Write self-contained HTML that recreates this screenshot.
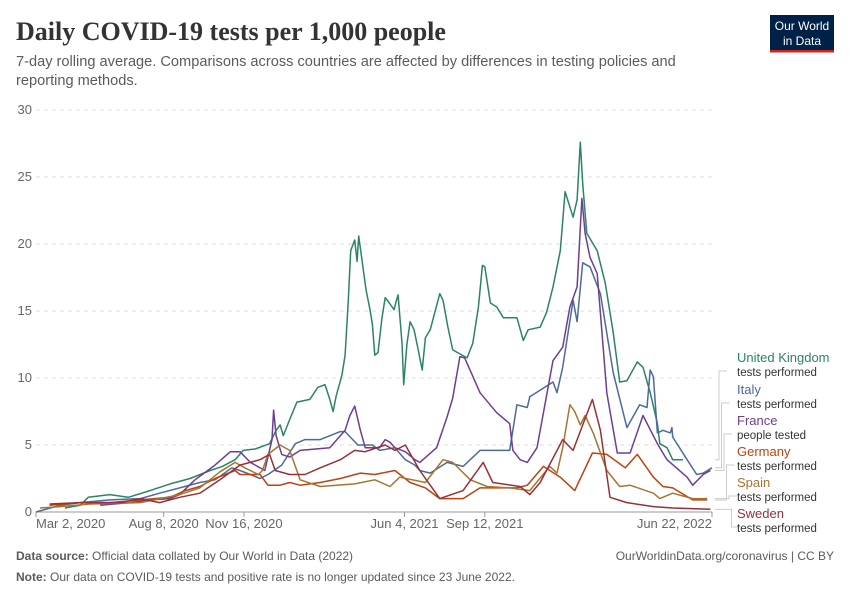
<!DOCTYPE html>
<html><head><meta charset="utf-8"><style>
body{margin:0;background:#fff;width:850px;height:600px;overflow:hidden;font-family:"Liberation Sans",sans-serif}
svg{display:block}
</style></head><body>
<svg id="chart" width="850" height="600">
<text x="16" y="40" font-family="Liberation Serif,serif" font-size="26" font-weight="bold" fill="#333">Daily COVID-19 tests per 1,000 people</text>
<text x="16" y="66" font-size="14.6" fill="#5b5b5b">7-day rolling average. Comparisons across countries are affected by differences in testing policies and</text>
<text x="16" y="85" font-size="14.6" fill="#5b5b5b">reporting methods.</text>
<g>
<rect x="770" y="15" width="64" height="35" fill="#002147"/>
<rect x="770" y="50" width="64" height="2.5" fill="#ce261e"/>
<text x="802" y="30" font-size="12" fill="#fff" text-anchor="middle">Our World</text>
<text x="802" y="45" font-size="12" fill="#fff" text-anchor="middle">in Data</text>
</g>
<g id="grid"></g><g id="xaxis"></g><g id="series"></g><g id="legend"></g>
<text x="16" y="560" font-size="12" fill="#5b5b5b"><tspan font-weight="bold">Data source:</tspan> Official data collated by Our World in Data (2022)</text>
<text x="834" y="560" font-size="12" fill="#5b5b5b" text-anchor="end">OurWorldinData.org/coronavirus | CC BY</text>
<text x="16" y="581" font-size="12" fill="#5b5b5b"><tspan font-weight="bold">Note:</tspan> Our data on COVID-19 tests and positive rate is no longer updated since 23 June 2022.</text>
</svg>
<script>
// days since Mar 2, 2020
const yTicks=[0,5,10,15,20,25,30];
const xTickDays=[0,159,259,459,559,842];
const xTickLabels=["Mar 2, 2020","Aug 8, 2020","Nov 16, 2020","Jun 4, 2021","Sep 12, 2021","Jun 22, 2022"];
const ukDays=[36,55,65,92,115,142,167,192,217,232,248,258,273,291,299,304,308,316,325,341,351,360,366,370,374,381,385,389,392,397,400,402,406,411,416,419,422,426,431,435,440,446,448,451,456,458,462,466,471,476,481,485,491,503,507,513,519,537,544,551,556,559,566,574,582,599,607,613,628,636,644,653,659,669,674,678,681,686,699,709,719,727,736,749,756,765,774,777,786,793,806];
const ukVals=[0.3,0.5,1.1,1.3,1.1,1.6,2.1,2.5,3.1,3.4,3.9,4.6,4.7,5.1,6.1,6.5,5.7,6.9,8.2,8.4,9.3,9.5,8.4,7.5,8.7,10.2,11.7,15.8,19.5,20.3,18.7,20.6,18.8,16.6,15.1,14.0,11.7,11.9,14.5,16.0,15.6,15.1,15.6,16.2,12.5,9.5,12.5,14.2,13.6,12.1,10.6,13.0,13.6,16.3,15.8,13.8,12.1,11.5,12.6,15.3,18.4,18.3,15.6,15.3,14.5,14.5,12.8,13.6,13.8,14.9,16.8,19.5,23.9,22.0,23.3,27.6,24.5,20.8,19.5,17.1,13.4,9.7,9.8,11.2,10.8,8.9,6.6,5.1,4.8,3.9,3.9];
const itDays=[0,30,55,92,130,154,179,204,223,244,254,267,279,289,306,323,335,354,379,385,401,419,428,447,460,472,478,491,512,532,553,590,599,612,615,644,649,656,669,674,681,690,703,719,736,752,761,765,769,774,781,790,792,793,811,823,831,842];
const itVals=[0,0.5,0.7,0.9,1.0,1.4,1.8,2.2,2.4,3.3,3.1,2.8,2.5,2.8,3.5,5.1,5.4,5.4,6.0,6.0,5.0,5.0,4.6,4.8,3.9,3.5,3.1,2.9,3.7,3.4,4.6,4.6,8.0,7.8,8.6,9.7,8.9,10.8,15.8,14.2,18.6,18.3,16.3,10.4,6.3,8.0,7.8,10.6,10.1,5.9,6.1,5.9,6.3,5.6,3.9,2.8,2.9,3.3];
const frDays=[80,117,142,167,179,198,223,242,254,267,285,294,296,299,306,316,329,366,385,391,397,404,410,428,435,441,447,460,472,478,499,512,519,528,534,553,574,590,594,603,612,624,644,656,665,674,680,684,690,699,711,724,740,756,774,786,811,818,831,840];
const frVals=[0.5,0.7,0.9,1.0,1.3,2.4,3.5,4.5,4.5,3.7,3.1,5.4,7.6,5.7,4.3,4.1,4.6,4.8,6.1,7.2,7.9,6.1,4.8,4.8,5.4,5.2,4.8,4.5,3.9,3.7,4.8,7.1,8.5,11.6,11.5,8.9,7.4,6.6,4.6,3.9,3.7,4.8,11.3,12.3,15.3,16.8,23.4,20.8,19.0,17.8,8.9,4.4,4.4,7.2,5.1,3.9,2.6,2.0,2.8,3.1];
const deDays=[17,55,92,130,167,186,204,223,248,254,279,289,304,316,329,354,379,404,422,447,466,485,503,532,553,599,612,632,653,671,693,711,734,749,769,781,793,818,836];
const deVals=[0.5,0.7,0.7,0.9,1.1,1.6,1.9,2.5,3.1,2.8,2.8,2.0,2.0,2.2,2.0,2.2,2.5,2.9,2.8,3.1,2.2,1.8,1.0,1.0,1.8,1.8,2.0,3.4,2.6,1.6,4.4,4.3,3.3,4.3,2.6,1.9,1.8,0.9,0.9];
const esDays=[5,30,67,130,179,204,229,248,260,277,282,289,304,316,329,354,397,422,441,453,485,507,519,541,562,590,615,640,649,656,665,671,678,684,694,711,727,740,769,777,793,818,836];
const esVals=[0.3,0.4,0.6,0.7,1.3,1.8,3.0,3.7,3.3,2.8,3.1,4.3,5.0,4.6,2.4,1.9,2.1,2.4,1.9,2.6,2.2,3.9,3.7,2.4,1.9,1.8,1.6,3.4,2.9,4.8,8.0,7.5,6.5,7.2,5.9,3.1,1.9,2.0,1.4,1.0,1.4,1.0,1.0];
const seDays=[17,55,105,130,154,179,204,229,254,279,291,298,316,335,354,379,397,410,435,447,460,478,491,503,532,557,569,603,615,628,656,669,693,703,715,736,769,793,840];
const seVals=[0.6,0.7,0.7,1.0,0.7,1.1,1.4,2.4,3.5,3.9,4.3,3.1,2.8,2.8,3.3,3.9,4.6,4.5,5.0,4.6,5.0,3.1,2.0,1.0,1.6,3.7,2.2,1.9,1.3,2.2,5.4,4.6,8.4,6.1,1.1,0.7,0.4,0.3,0.2];
const seriesNames=["United Kingdom","Italy","France","Germany","Spain","Sweden"];
const seriesSubs=["tests performed","tests performed","people tested","tests performed","tests performed","tests performed"];
const seriesColors=["#2b8465","#4c6a9c","#6d3e91","#c0410f","#a8742d","#9a2f37"];
const seriesDays=[ukDays,itDays,frDays,deDays,esDays,seDays];
const seriesVals=[ukVals,itVals,frVals,deVals,esVals,seVals];

const NS="http://www.w3.org/2000/svg";
const X0=36,X1=712,Y0=512,Y1=110,DMAX=842,VMAX=30;
const xs=d=>X0+(X1-X0)*d/DMAX;
const ys=v=>Y0-(Y0-Y1)*v/VMAX;
function mk(t,a,p){const e=document.createElementNS(NS,t);for(const k in a)e.setAttribute(k,a[k]);p.appendChild(e);return e;}
const grid=document.getElementById('grid');
yTicks.forEach(v=>{
  if(v>0){const l=mk('line',{x1:36,x2:712,y1:ys(v),y2:ys(v),stroke:'#ddd','stroke-dasharray':'4,4'},grid);
  
  }
  const t=mk('text',{x:32,y:ys(v)+4,'font-size':13,fill:'#666','text-anchor':'end'},grid);
  t.textContent=v;
  
  
});
const xa=document.getElementById('xaxis');
const ax=mk('line',{x1:36,x2:712,y1:512,y2:512,stroke:'#999'},xa);


xTickDays.forEach((d,i)=>{
  mk('line',{x1:xs(d),x2:xs(d),y1:512,y2:517,stroke:'#999'},xa);
  const t=mk('text',{x:xs(d),y:528,'font-size':13,fill:'#666','text-anchor':i==0?'start':(i==5?'end':'middle')},xa);
  t.textContent=xTickLabels[i];
  
  
});
const sg=document.getElementById('series');
seriesNames.forEach((n,i)=>{
  const pts=seriesDays[i].map((d,j)=>xs(d).toFixed(1)+','+ys(seriesVals[i][j]).toFixed(1)).join(' ');
  const p=mk('polyline',{points:pts,fill:'none',stroke:seriesColors[i],'stroke-width':1.5,'stroke-linejoin':'round'},sg);
  
  
});
const lg=document.getElementById('legend');
const labelY=[357,389,420,451,482,513];
seriesNames.forEach((n,i)=>{
  const d=seriesDays[i],v=seriesVals[i];
  const ey=ys(v[v.length-1]),ex=xs(d[d.length-1]);
  const bx=719+i*2.5;
  mk('path',{d:`M${Math.max(ex,712)+3},${ey} H${bx} V${labelY[i]+14} H${bx+8}`,fill:'none',stroke:'#ccc'},lg);
  const t=mk('text',{x:737,y:labelY[i]+5,'font-size':13,fill:seriesColors[i]},lg);
  t.textContent=n;
  
  
  const s=mk('text',{x:737,y:labelY[i]+19,'font-size':11.5,fill:'#333'},lg);
  s.textContent=seriesSubs[i];
  
  
});
</script>
</body></html>
